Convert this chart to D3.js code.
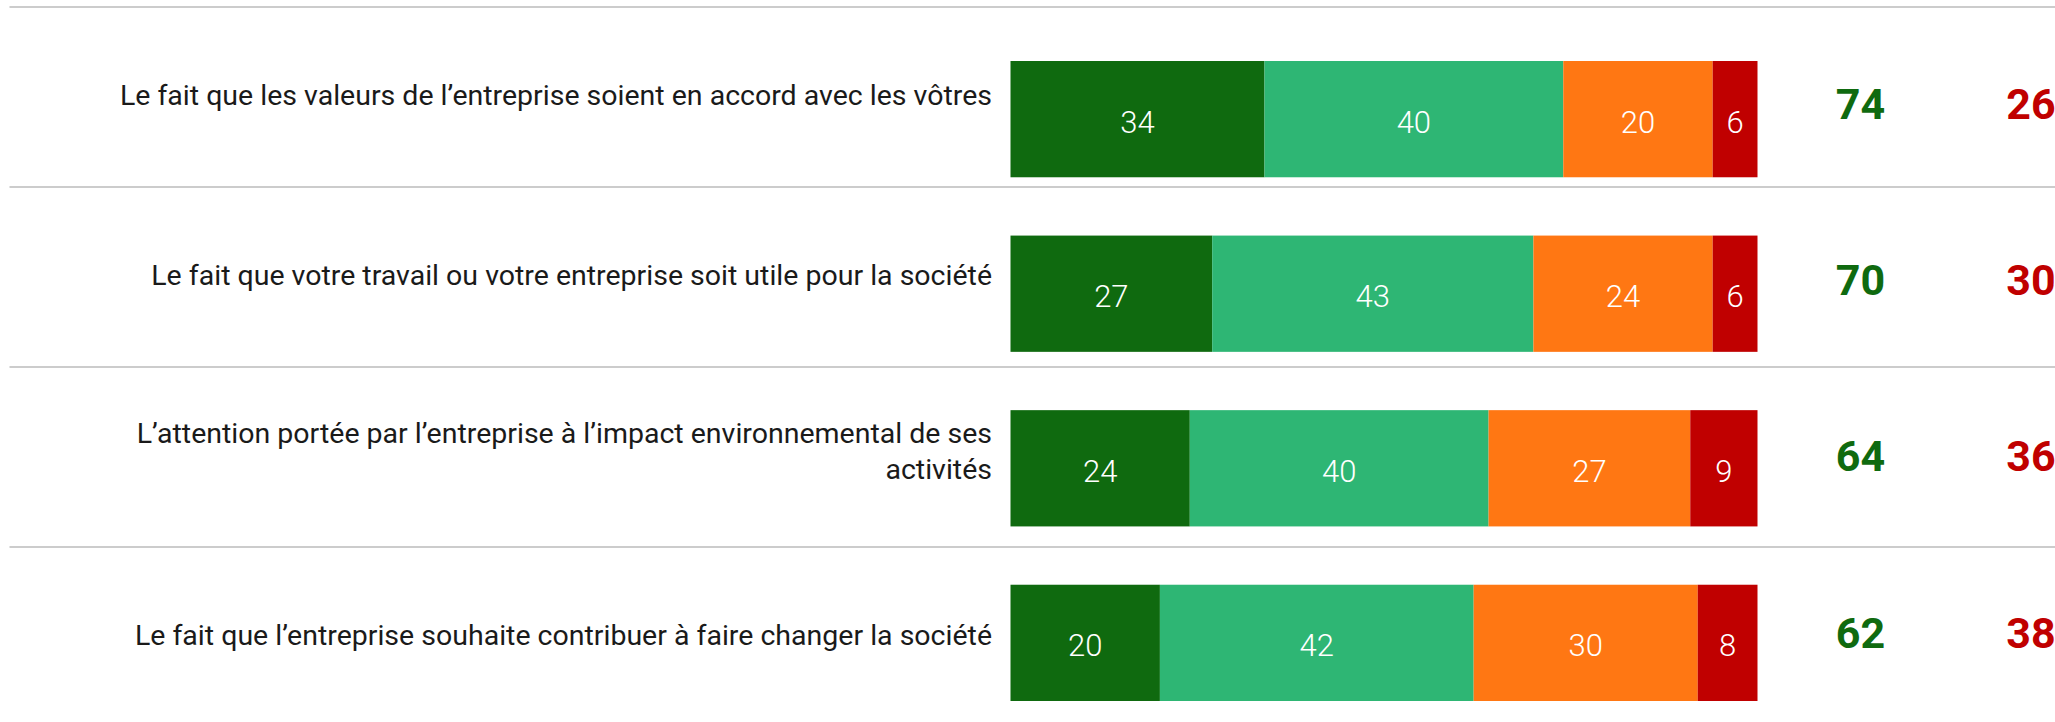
<!DOCTYPE html>
<html>
<head>
<meta charset="utf-8">
<script src="https://cdn.jsdelivr.net/npm/d3@7"></script>
<style>
  html, body { margin: 0; padding: 0; background: #ffffff; }
  svg { display: block; }
</style>
</head>
<body>
<svg id="chart" width="2055" height="722"></svg>
<script>
// ---- Data ----
const categories = [
  "Le fait que les valeurs de l’entreprise soient en accord avec les vôtres",
  "Le fait que votre travail ou votre entreprise soit utile pour la société",
  "L’attention portée par l’entreprise à l’impact environnemental de ses activités",
  "Le fait que l’entreprise souhaite contribuer à faire changer la société"
];
const categoryLines = [
  ["Le fait que les valeurs de l’entreprise soient en accord avec les vôtres"],
  ["Le fait que votre travail ou votre entreprise soit utile pour la société"],
  ["L’attention portée par l’entreprise à l’impact environnemental de ses", "activités"],
  ["Le fait que l’entreprise souhaite contribuer à faire changer la société"]
];
const seriesNames = ["Très important", "Assez important", "Peu important", "Pas du tout important"];
const tresImportant   = [34, 27, 24, 20];
const assezImportant  = [40, 43, 40, 42];
const peuImportant    = [20, 24, 27, 30];
const pasDuTout       = [6, 6, 9, 8];
const totalImportant    = [74, 70, 64, 62];
const totalPasImportant = [26, 30, 36, 38];
const seriesColors = ["#0f6a0f", "#2eb674", "#ff7713", "#c00000"];

// ---- Build table ----
const table = categories.map((c, i) => ({
  category: c,
  [seriesNames[0]]: tresImportant[i],
  [seriesNames[1]]: assezImportant[i],
  [seriesNames[2]]: peuImportant[i],
  [seriesNames[3]]: pasDuTout[i]
}));
const stacked = d3.stack().keys(seriesNames)(table);

const svg = d3.select("#chart");
const font = "Roboto, 'Noto Sans', sans-serif";

// ---- Scales ----
const x = d3.scaleLinear().domain([0, 100]).range([1010.5, 1757.5]);
const yBar = d3.scaleBand().domain(categories).range([61, 701]).paddingInner(0.334).paddingOuter(0);
const yRow = d3.scaleBand().domain(categories).range([7, 727]);
const yTot = d3.scalePoint().domain(categories).range([103.5, 632]);
const color = d3.scaleOrdinal().domain(seriesNames).range(seriesColors);

// ---- Row separators ----
svg.append("g").selectAll("line")
  .data(categories)
  .join("line")
  .attr("x1", 9.5).attr("x2", 2055)
  .attr("y1", d => yRow(d)).attr("y2", d => yRow(d))
  .attr("stroke", "#cccccc").attr("stroke-width", 2);

// ---- Row labels ----
const lab = svg.append("g").selectAll("text")
  .data(categories)
  .join("text")
  .attr("text-anchor", "end")
  .attr("font-family", font)
  .attr("font-size", 28.5)
  .attr("fill", "#1a1a1a");
lab.each(function(c, i) {
  const lines = categoryLines[i];
  const n = lines.length;
  const cy = yRow(c) + yRow.bandwidth() / 2;
  d3.select(this).selectAll("tspan")
    .data(lines)
    .join("tspan")
    .attr("x", 992)
    .attr("y", (l, j) => cy + 8 - (n - 1) * 22 + j * 36)
    .text(l => l);
});

// ---- Bars ----
const groups = svg.append("g").selectAll("g")
  .data(stacked)
  .join("g")
  .attr("fill", d => color(d.key));
groups.selectAll("rect")
  .data(d => d)
  .join("rect")
  .attr("x", d => x(d[0]))
  .attr("width", d => x(d[1]) - x(d[0]))
  .attr("y", d => yBar(d.data.category))
  .attr("height", yBar.bandwidth());

// ---- Bar value labels ----
const valLayer = svg.append("g");
stacked.forEach(s => {
  valLayer.selectAll(null)
    .data(s)
    .join("text")
    .attr("x", d => (x(d[0]) + x(d[1])) / 2)
    .attr("y", d => yBar(d.data.category) + yBar.bandwidth() / 2 + 13.5)
    .attr("text-anchor", "middle")
    .attr("font-family", font)
    .attr("font-weight", 300)
    .attr("font-size", 31)
    .attr("fill", "#ffffff")
    .text(d => d[1] - d[0]);
});

// ---- Totals ----
svg.append("g").selectAll("text")
  .data(categories)
  .join("text")
  .attr("x", 1860.5)
  .attr("y", c => yTot(c) + 15.5)
  .attr("text-anchor", "middle")
  .attr("font-family", font)
  .attr("font-weight", 700)
  .attr("font-size", 43)
  .attr("fill", "#0f6a0f")
  .text((c, i) => totalImportant[i]);

svg.append("g").selectAll("text")
  .data(categories)
  .join("text")
  .attr("x", 2031)
  .attr("y", c => yTot(c) + 15.5)
  .attr("text-anchor", "middle")
  .attr("font-family", font)
  .attr("font-weight", 700)
  .attr("font-size", 43)
  .attr("fill", "#c00000")
  .text((c, i) => totalPasImportant[i]);
</script>
</body>
</html>
